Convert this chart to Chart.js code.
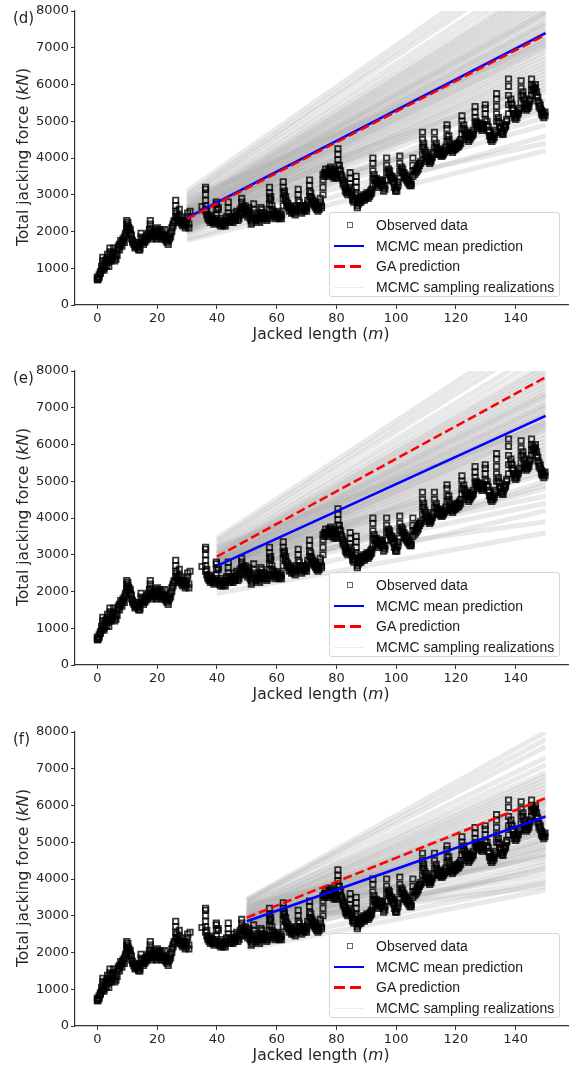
<!DOCTYPE html>
<html><head><meta charset="utf-8">
<script src="https://cdn.jsdelivr.net/npm/chart.js@4.4.1/dist/chart.umd.min.js"></script>
<style>
html,body{margin:0;padding:0;background:#fff;}
body{width:574px;height:1070px;position:relative;overflow:hidden;font-family:'DejaVu Sans',sans-serif;color:#262626;}
.panel{position:absolute;left:0;width:574px;height:345px;}
.panel canvas{position:absolute;left:0;top:0;}
.plabel{position:absolute;left:13px;top:11px;font-size:15px;line-height:15px;}
.ytitle{position:absolute;left:23px;top:157px;transform:translate(-50%,-50%) rotate(-90deg);white-space:nowrap;font-size:15.5px;}
.xtitle{position:absolute;left:321px;top:334px;transform:translate(-50%,-50%);white-space:nowrap;font-size:15.5px;}
.legend{position:absolute;left:329px;top:212px;width:231px;height:85px;box-sizing:border-box;border:1px solid #d6d6d6;border-radius:3px;background:rgba(255,255,255,0.8);font-family:'Liberation Sans',Arial,sans-serif;font-size:14px;}
.row{position:absolute;left:0;height:20px;width:100%;}
.row span{position:absolute;left:46px;top:50%;transform:translateY(-50%);white-space:nowrap;color:#1a1a1a;}
.sq{position:absolute;left:17px;top:50%;width:4px;height:4px;margin-top:-3px;border:1px solid #666;}
.ln{position:absolute;left:4px;top:50%;width:30px;}
</style>
</head><body>
<div id="panels"></div>
<script>
// ---------- DATA ----------
const xTicks = [0, 20, 40, 60, 80, 100, 120, 140];
const yTicks = [0, 1000, 2000, 3000, 4000, 5000, 6000, 7000, 8000];
const panelLabels = ['(d)', '(e)', '(f)'];
const seriesNames = ['Observed data', 'MCMC mean prediction', 'GA prediction', 'MCMC sampling realizations'];

// Observed data: jacked length positions and the force readings at each position (kN)
const obsX = [0.0,0.3,0.6,1.0,1.4,1.8,2.2,2.6,3.0,3.4,3.8,4.2,4.6,5.0,5.4,5.8,6.2,6.6,7.0,7.4,7.8,8.2,8.6,9.0,9.4,9.8,10.2,10.6,11.0,11.4,11.8,12.2,12.6,13.0,13.4,13.8,14.2,14.6,15.0,15.4,15.8,16.2,16.6,17.0,17.4,17.7,18.1,18.5,18.9,19.3,19.7,20.1,20.5,20.9,21.3,21.7,22.1,22.5,22.9,23.3,23.7,24.1,24.5,24.9,25.3,25.7,26.2,26.6,27.0,27.4,27.8,28.2,28.6,29.0,29.4,29.8,30.2,30.6,31.0,35.0,36.2,36.6,37.0,37.4,37.8,38.2,38.6,39.0,39.4,39.8,40.4,40.8,41.2,41.6,42.0,42.4,42.8,43.2,43.8,44.2,44.6,45.0,45.4,45.8,46.2,46.6,47.0,47.4,47.8,48.3,48.7,49.1,49.5,49.9,50.3,50.7,51.1,51.5,51.9,52.3,52.7,53.1,53.5,53.9,54.3,54.7,55.1,55.5,55.9,56.3,56.7,57.1,57.6,58.0,58.4,58.8,59.2,59.6,60.0,60.4,60.8,61.2,61.6,62.2,62.6,63.0,63.4,63.8,64.2,64.6,65.0,65.4,65.8,66.2,66.6,67.2,67.6,68.0,68.4,68.8,69.2,69.6,70.0,70.4,71.0,71.4,71.8,72.2,72.6,73.0,73.4,73.8,74.2,74.6,75.0,75.5,76.0,76.4,76.8,77.2,77.6,78.0,78.4,78.8,79.2,79.6,80.0,80.5,81.0,81.4,81.8,82.2,82.6,83.0,83.4,83.8,84.2,84.6,85.0,85.4,85.8,86.2,86.6,87.0,87.4,87.8,88.2,88.6,89.0,89.4,89.8,90.2,90.6,91.0,91.4,91.8,92.2,92.6,93.0,93.4,93.8,94.2,94.6,95.0,95.4,95.8,96.2,96.8,97.4,97.8,98.2,98.6,99.0,99.4,99.8,100.2,100.6,101.2,101.8,102.2,102.6,103.0,103.4,103.8,104.2,104.6,105.0,105.6,106.2,106.6,107.0,107.4,107.8,108.2,108.8,109.2,109.6,110.0,110.4,110.8,111.2,111.6,112.0,112.4,112.8,113.4,113.8,114.2,114.6,115.0,115.4,115.8,116.2,116.6,117.0,117.6,118.0,118.4,118.8,119.2,119.6,120.0,120.4,120.8,121.2,121.6,122.0,122.6,123.0,123.4,123.8,124.2,124.6,125.0,125.4,125.8,126.4,126.8,127.2,127.6,128.0,128.4,128.8,129.2,129.8,130.4,130.8,131.2,131.6,132.0,132.4,132.8,133.2,133.6,134.2,134.6,135.0,135.4,135.8,136.2,136.6,137.0,137.6,138.4,138.8,139.2,139.6,140.0,140.4,140.8,141.2,141.8,142.4,142.8,143.2,143.6,144.0,144.4,144.8,145.3,145.8,146.2,146.6,147.0,147.4,147.8,148.2,148.6,149.0,149.4,149.8];
const obsY = [[680,720,760],[700],[760,820],[860,900],[950,1050],[1000,1100,1200,1300],[950,1000],[1100,1200],[1050,1250],[1150,1300,1380],[1050,1200],[1350,1450,1550],[1200,1300],[1250,1400],[1450,1550],[1200,1300],[1250,1400],[1350,1500],[1550,1600],[1500,1650],[1650,1750],[1600,1700],[1750,1800],[1700,1850],[1900,1950],[2000,2100,2200,2300],[2050,2150,2250],[2000,2100],[1950,2050],[1800,1900],[1700,1750],[1650,1700],[1550,1600,1650],[1600,1700],[1550,1650],[1500,1600],[1500,1550],[1700,1850,1950],[1700,1800],[1650,1750],[1700,1800],[1750,1850],[1800,1900],[1850,1950],[1900,2050],[2000,2100,2200,2300],[1850,1900],[1800,1950],[1900,2000],[1850,1950],[1800,2050],[1900,2100],[1850,2000],[1900,2050],[1800,1950],[1850,2000],[1800,1900],[1850,2050],[1750,1850],[1700,1800],[1650,1750],[1800,1900],[1850,1950],[2000,2100],[2150,2200],[2250,2300],[2400,2550,2700,2850],[2400,2500],[2300,2350],[2450,2600],[2250,2400],[2200,2300],[2150,2250],[2200,2300],[2100,2250],[2150,2300],[2400,2500],[2100,2200],[2550],[2680],[2550,2700,2850,3000,3150,3200],[2450,2600],[2350,2400],[2300,2450],[2250,2350],[2300,2400],[2250,2350],[2200,2300],[2250,2350],[2450,2600,2750,2800],[2600,2650],[2200,2300],[2150,2250],[2200,2350],[2150,2250],[2200,2300],[2150,2250],[2300,2400],[2500,2650,2800],[2300,2400],[2250,2350],[2300,2400],[2250,2350],[2400,2500],[2300,2350],[2450,2550],[2300,2400],[2350,2500],[2450,2600],[2650,2800,2900],[2600,2700],[2500,2600],[2550,2700],[2450,2600],[2400,2500],[2550,2650],[2350,2450],[2200,2300],[2250,2350],[2600,2750],[2400,2500],[2300,2350],[2350,2450],[2300,2400],[2250,2350],[2500,2650],[2500,2600],[2350,2450],[2400,2500],[2350,2450],[2300,2400],[2350,2450],[2600,2750,2900,3050,3200],[2850,2950],[2600,2700],[2450,2550],[2400,2500],[2350,2450],[2400,2500],[2450,2550],[2350,2400],[2400,2500],[2350,2450],[2700,2900,3050,3200,3350],[3000,3100],[2850,2950],[2700,2800],[2650,2750],[2550,2650],[2600,2700],[2500,2600],[2550,2650],[2500,2600],[2450,2550],[2600,2700],[2850,3000,3150],[2700,2800],[2550,2650],[2500,2600],[2600,2700],[2550,2650],[2600,2700],[2550,2650],[2750,2850],[2950,3100,3250,3400],[2950,3050],[2800,2900],[2750,2850],[2700,2800],[2650,2750],[2600,2700],[2550,2650],[2600,2700],[2800,2900],[2650,2700],[3000,3200,3400,3550],[3500,3600],[3550,3700],[3500,3600],[3550,3650],[3600,3700],[3650,3750],[3550,3700],[3500,3600],[3450,3550],[3500,3600],[3450,3550],[3650,3800,3950,4100,4250],[3700,3800],[3550,3650],[3450,3500],[3300,3400],[3250,3350],[3100,3200],[3050,3150],[3000,3100],[3050,3200],[3300,3450,3600],[3000,3100],[2850,2950],[2800,2900],[2850,3000],[3050,3200,3350,3500],[2650,2700,2800],[2750,2850],[2800,2900],[2800,2900],[2850,2950],[2900,3000],[2850,2950],[2900,3000],[2950,3050],[2900,3000],[2950,3050],[3000,3100],[3050,3150],[3250,3450,3650,3850,4000],[3450,3550],[3300,3400],[3350,3450],[3200,3300],[3250,3350],[3300,3400],[3250,3350],[3300,3400],[3100,3200],[3150,3250],[3400,3600,3800,4000],[3600,3700],[3550,3650],[3450,3500],[3400,3500],[3350,3450],[3200,3300],[3100,3150],[3100,3200],[3250,3350],[3450,3650,3850,4050],[3650,3750],[3600,3700],[3500,3600],[3450,3550],[3400,3500],[3350,3450],[3300,3400],[3250,3350],[3250,3300],[3500,3650,3800,4000],[3550,3650],[3600,3700],[3650,3750],[3700,3800],[3800,3850],[3850,3900],[4100,4300,4500,4700],[4300,4400],[4100,4200],[4050,4150],[3900,4000],[3950,4000],[3850,3900],[3900,3950],[4000,4050],[4100,4150],[4300,4500,4700],[4300,4400],[4200,4250],[4100,4150],[4150,4200],[4050,4100],[4050,4150],[4100,4200],[4150,4250],[4200,4300],[4450,4600,4800,4900],[4500,4600],[4300,4400],[4200,4300],[4150,4250],[4200,4300],[4250,4350],[4250,4350],[4300,4400],[4300,4400],[4350,4450],[4400,4500],[4650,4800,5000,5150],[4800,4900],[4650,4750],[4600,4700],[4500,4600],[4450,4550],[4500,4600],[4550,4650],[4600,4700],[4650,4750],[4950,5100,5250,5400],[4900,5000],[4850,4950],[4800,4900],[4850,4950],[4800,4900],[4750,4850],[4800,4900],[5050,5200,5350,5450],[4900,5000],[4750,4850],[4600,4700],[4500,4600],[4450,4550],[4500,4600],[4550,4650],[4700,4750],[5000,5200,5400,5600,5750],[5000,5100],[4850,4950],[4700,4800],[4650,4700],[4650,4750],[4800,4850],[4850,4900],[5000,5050],[5200,5450,5700,5950,6150],[5500,5600],[5350,5450],[5200,5300],[5100,5200],[5050,5150],[5100,5200],[5200,5250],[5300,5350],[5500,5700,5900,6100],[5700,5800],[5500,5600],[5350,5450],[5300,5400],[5350,5450],[5400,5500],[5550,5600],[5700,5850,6000,6150],[5850,5950],[5800,5900],[5900,6000],[5700,5800],[5550,5650],[5400,5500],[5350,5450],[5200,5300],[5150,5250],[5100,5200],[5150,5250]];

// Prediction start points (m) and line end values (kN) per panel
const predStartX = [30, 40, 50];
const predEndX = 150;
const meanStart = [2370, 2700, 2850];
const meanEnd   = [7400, 6780, 5700];
const gaStart   = [2340, 2950, 2950];
const gaEnd     = [7350, 7830, 6200];

// MCMC sampling realizations: value at start point and at 150 m
const realStartD = [2350,2100,2600,2250,2450,1900,2800,2300,2050,2500,2700,2200,2400,1800,2950,2150,2550,2380,2000,2650,2280,2480,3100,2120,2330,2580,1750,2420,2750,2230,2020,2880,2360,2180,2520,2620,1950,2270,2460,3000,2080,2320,2680,2400,2200,2540,2860,2140,2440,2300];
const realEndD   = [7400,6500,8300,6900,7800,5400,9000,7200,6200,8100,8700,6700,7600,4600,9500,6400,8200,7500,5900,8500,7100,7900,9900,6600,7300,8000,4200,7700,8800,7000,6100,9200,7450,6800,7950,8400,5600,7050,7650,9700,6300,7250,8600,5100,4900,6000,7150,5300,5800,4400];
const realStartE = [2700,2450,2950,2600,2800,2250,3150,2650,2400,2850,3050,2550,2750,2100,3300,2500,2900,2720,2350,3000,2620,2820,3450,2480,2680,2920,1950,2780,3100,2580,2300,3220,2700,2530,2870,2980,2200,2630,2800,3380,2430,2660,3030,2750,2550,2880,3200,2500,2780,2650];
const realEndE   = [6800,5900,7700,6300,7200,4900,8400,6600,5600,7500,8100,6100,7000,4200,8900,5800,7600,6900,5300,7900,6500,7300,9300,6000,6700,7400,3600,7100,8200,6400,5500,8600,6850,6200,7350,7800,5000,6450,7050,9100,5700,6650,8000,4600,4400,5400,6550,4800,5200,3900];
const realStartF = [2850,2600,3100,2750,2950,2400,3250,2800,2550,3000,3200,2700,2900,2250,3400,2650,3050,2870,2500,3150,2770,2970,3450,2630,2830,3070,2100,2930,3300,2730,2450,3350,2850,2680,3020,3130,2350,2780,2950,3420,2580,2810,3180,2900,2700,3030,3280,2650,2930,2800];
const realEndF   = [5700,5000,6400,5300,6000,4300,7100,5500,4800,6200,6800,5100,5800,3900,7600,4900,6300,5750,4500,6600,5400,6100,8000,5050,5600,6150,3700,5900,6900,5350,4700,7300,5650,5200,6050,6500,4400,5450,5850,7800,4850,5550,6700,4100,3950,4600,5250,4250,4650,3800];
const realStarts = [realStartD, realStartE, realStartF];
const realEnds   = [realEndD, realEndE, realEndF];

// ---------- BUILD ----------
const obsPoints = [];
obsX.forEach((x, i) => obsY[i].forEach(y => obsPoints.push({x: x, y: y})));

const panelTops = [0, 360, 721];
const container = document.getElementById('panels');

function makePanel(p) {
  const div = document.createElement('div');
  div.className = 'panel';
  div.style.top = panelTops[p] + 'px';
  div.innerHTML =
    '<canvas width="574" height="330"></canvas>' +
    '<div class="plabel">' + panelLabels[p] + '</div>' +
    '<div class="ytitle">Total jacking force (<i>kN</i>)</div>' +
    '<div class="xtitle">Jacked length (<i>m</i>)</div>' +
    '<div class="legend">' +
      '<div class="row" style="top:2px"><div class="sq"></div><span>' + seriesNames[0] + '</span></div>' +
      '<div class="row" style="top:22.5px"><div class="ln" style="height:2.5px;margin-top:-1px;background:#0000ff"></div><span>' + seriesNames[1] + '</span></div>' +
      '<div class="row" style="top:43px"><div class="ln" style="height:2.5px;margin-top:-1px;background:repeating-linear-gradient(to right,#ff0000 0 11px,transparent 11px 16px)"></div><span>' + seriesNames[2] + '</span></div>' +
      '<div class="row" style="top:63.5px"><div class="ln" style="height:1px;background:#ececec"></div><span>' + seriesNames[3] + '</span></div>' +
    '</div>';
  container.appendChild(div);
  const canvas = div.querySelector('canvas');

  const x0 = predStartX[p];
  const datasets = [
    {label: seriesNames[0], data: obsPoints, showLine: false, pointStyle: 'rect', pointRadius: 3.8,
     pointBorderColor: 'rgba(0,0,0,0.78)', pointBackgroundColor: 'rgba(0,0,0,0)', pointBorderWidth: 1.8, order: 2},
    {label: seriesNames[1], data: [{x: x0, y: meanStart[p]}, {x: predEndX, y: meanEnd[p]}], showLine: true,
     borderColor: '#0000ff', borderWidth: 2.5, pointRadius: 0, order: 1},
    {label: seriesNames[2], data: [{x: x0, y: gaStart[p]}, {x: predEndX, y: gaEnd[p]}], showLine: true,
     borderColor: '#ff0000', borderWidth: 2.5, borderDash: [9, 4], pointRadius: 0, order: 0}
  ];
  realStarts[p].forEach((s, i) => {
    datasets.push({label: i === 0 ? seriesNames[3] : '', data: [{x: x0, y: s}, {x: predEndX, y: realEnds[p][i]}],
      showLine: true, borderColor: 'rgba(160,160,160,0.23)', borderWidth: 5, pointRadius: 0, order: 3});
  });

  const tickFont = {family: 'DejaVu Sans', size: 13};
  new Chart(canvas, {
    type: 'scatter',
    data: {datasets: datasets},
    options: {
      responsive: false, animation: false, devicePixelRatio: 1,
      layout: {padding: {top: 11, right: 6, left: 0, bottom: 0}},
      plugins: {legend: {display: false}, tooltip: {enabled: false}},
      events: [],
      scales: {
        x: {
          type: 'linear', min: -7.5, max: 157.5,
          afterFit: s => { s.height = 25; },
          afterBuildTicks: s => { s.ticks = xTicks.map(v => ({value: v})); },
          ticks: {font: tickFont, color: '#262626', padding: 2, maxRotation: 0, autoSkip: false, callback: v => String(v)},
          grid: {display: true, drawOnChartArea: false, drawTicks: true, tickLength: 4, color: '#333', lineWidth: 1},
          border: {display: true, color: '#333', width: 1.2}
        },
        y: {
          type: 'linear', min: 0, max: 8000,
          afterFit: s => { s.width = 75; },
          afterBuildTicks: s => { s.ticks = yTicks.map(v => ({value: v})); },
          ticks: {font: tickFont, color: '#262626', padding: 2, autoSkip: false, callback: v => String(v)},
          grid: {display: true, drawOnChartArea: false, drawTicks: true, tickLength: 4, color: '#333', lineWidth: 1},
          border: {display: true, color: '#333', width: 1.2}
        }
      }
    }
  });
}
[0, 1, 2].forEach(makePanel);
</script>
</body></html>
